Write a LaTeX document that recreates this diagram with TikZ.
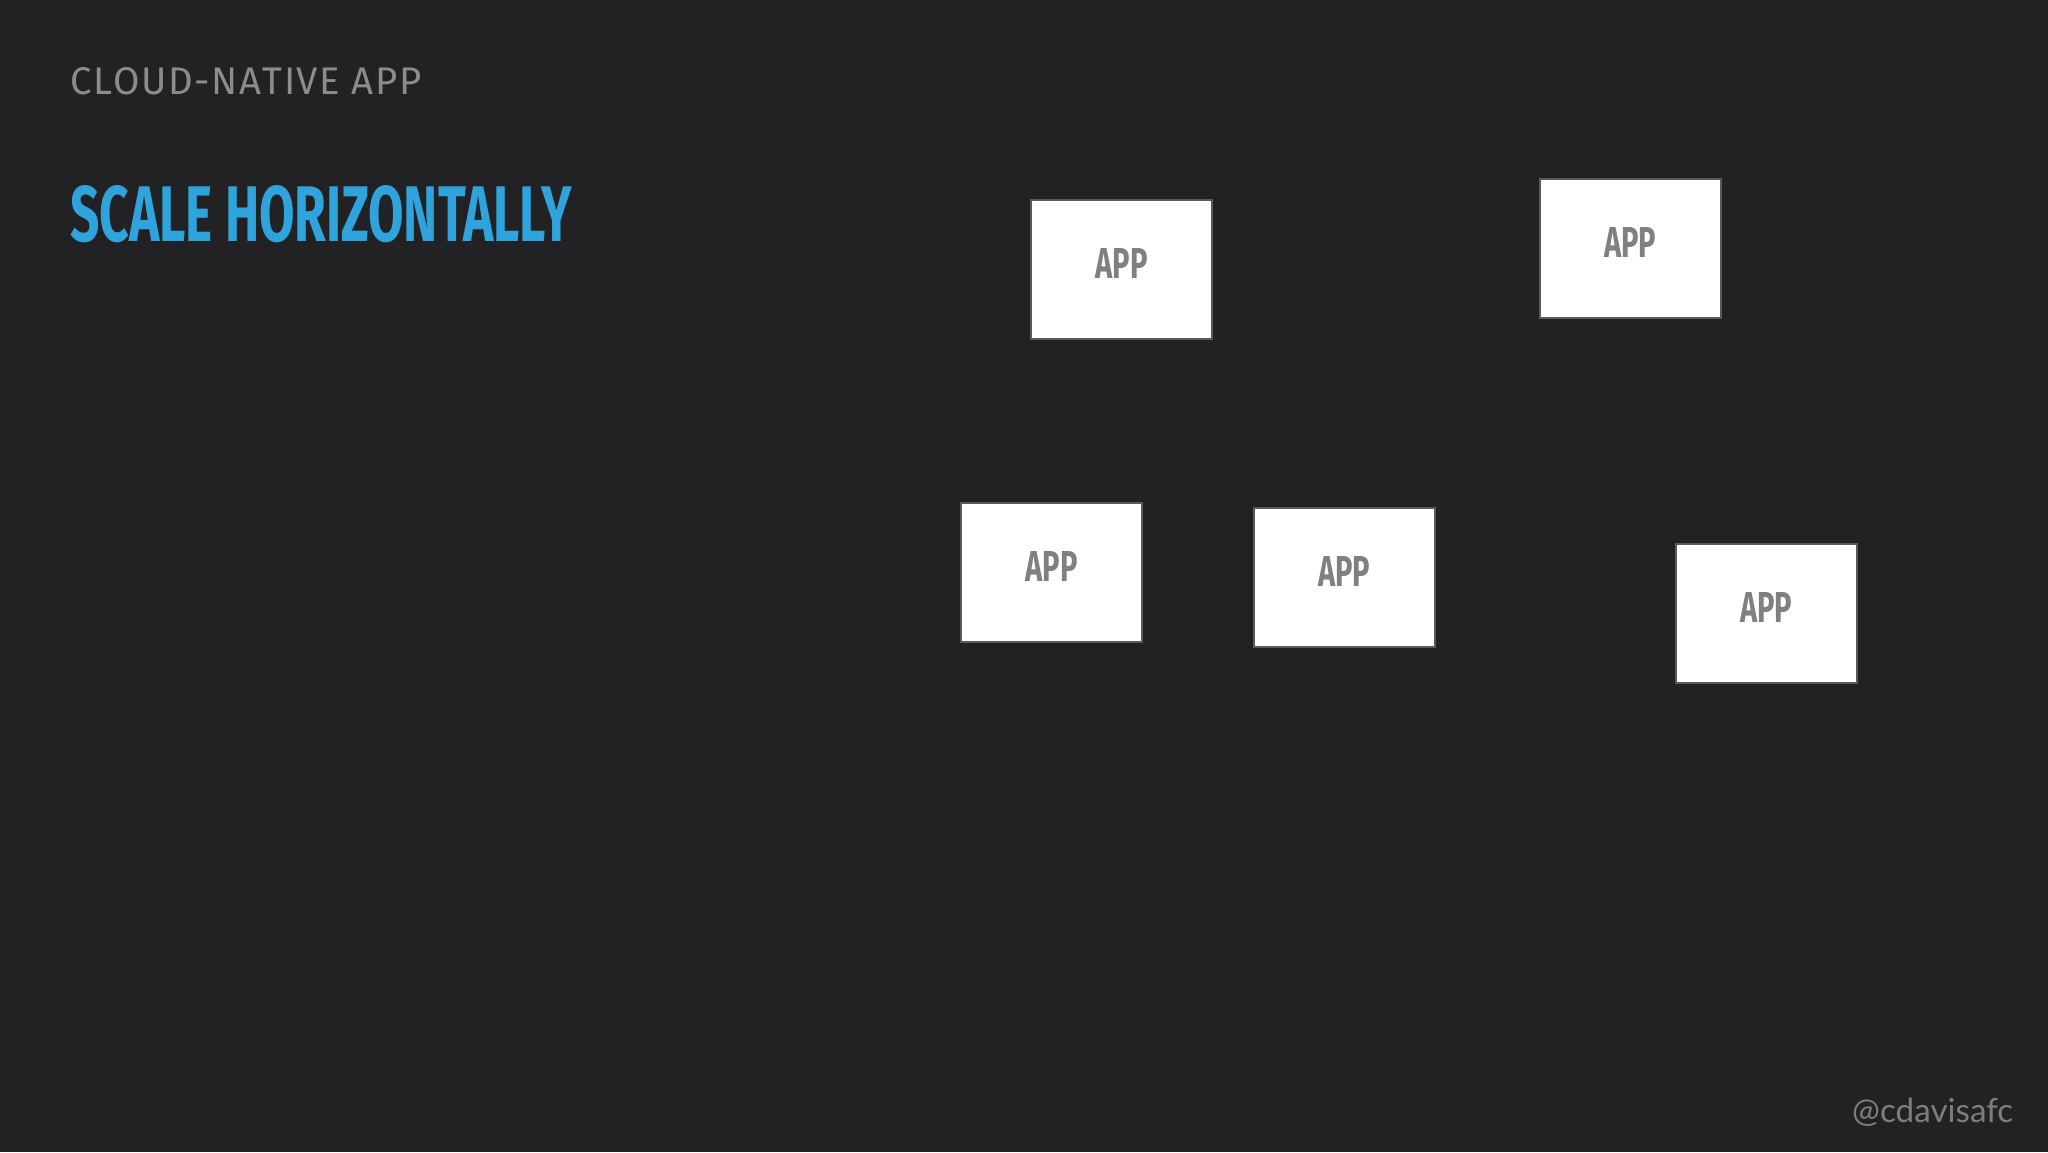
\documentclass[tikz,border=0pt]{standalone}
\usepackage{fontspec}
\setmainfont{Fira Sans}
\newfontfamily\handlefont{Lato}
\definecolor{bgc}{HTML}{222224}
\definecolor{titleblue}{HTML}{2FA4DC}
\definecolor{subgray}{HTML}{8C8C8C}
\definecolor{handlegray}{HTML}{7D7D7D}
\definecolor{apptextc}{HTML}{808080}
\definecolor{boxline}{HTML}{5A5A5A}
\tikzset{
  appbox/.style={draw=boxline, line width=2pt, fill=white, minimum width=181pt, minimum height=139pt, inner sep=0pt},
  apptext/.style={text=apptextc, inner sep=0pt},
  plaintext/.style={inner sep=0pt}
}
\newcommand{\applabel}{\resizebox{52pt}{30pt}{\bfseries APP}}
\newcommand{\ks}{\kern0.4pt}
\begin{document}
\begin{tikzpicture}[x=1pt,y=-1pt]
\fill[bgc] (0,0) rectangle (2048,1152);
\useasboundingbox (0,0) rectangle (2048,1152);
\node[plaintext, text=subgray, anchor=base west] (sub) at (70,94) {\resizebox{351pt}{27pt}{C\ks L\ks O\ks U\ks D\ks -\ks N\ks A\ks T\ks I\ks V\ks E\ks{} A\ks P\ks P}};
\node[plaintext, text=titleblue, anchor=base west] (title) at (70,241) {\resizebox{502pt}{56pt}{\bfseries SCALE HORIZONTALLY}};
\node[plaintext, text=handlegray, anchor=base west] (handle) at (1852,1122) {\resizebox{161pt}{!}{\handlefont @cdavisafc}};
\node[appbox] (b1) at (1121.5,269) {};
\node[appbox] (b2) at (1630,248.5) {};
\node[appbox] (b3) at (1051.5,572) {};
\node[appbox] (b4) at (1344,577.5) {};
\node[appbox] (b5) at (1766,613) {};
\node[apptext] (t1) at ([yshift=6pt]b1.center) {\applabel};
\node[apptext] (t2) at ([yshift=6pt]b2.center) {\applabel};
\node[apptext] (t3) at ([yshift=6pt]b3.center) {\applabel};
\node[apptext] (t4) at ([yshift=6pt]b4.center) {\applabel};
\node[apptext] (t5) at ([yshift=6pt]b5.center) {\applabel};
\end{tikzpicture}
\end{document}
